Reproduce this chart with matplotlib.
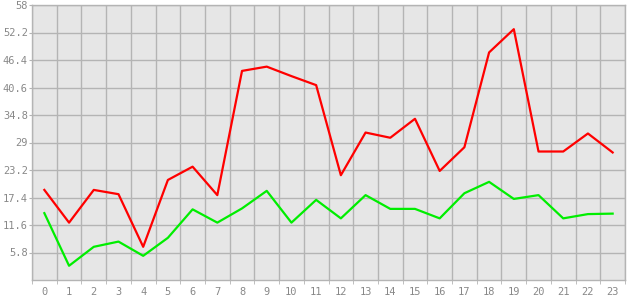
import matplotlib
matplotlib.use("Agg")
import matplotlib.pyplot as plt
import numpy as np

hours = list(range(24))
red_vals = [19.0, 12.1, 19.0, 18.1, 7.0, 21.1, 23.9, 17.9, 44.1, 45.0, 43.0, 41.1,
            22.1, 31.1, 30.0, 34.0, 23.0, 28.0, 48.0, 52.9, 27.1, 27.1, 30.9, 26.9]
green_vals = [14.1, 3.0, 7.0, 8.1, 5.1, 8.9, 14.9, 12.1, 15.1, 18.8, 12.1, 16.9,
              13.0, 17.9, 15.0, 15.0, 13.0, 18.3, 20.7, 17.1, 17.9, 13.0, 13.9, 14.0]
y_ticks = [5.8, 11.6, 17.4, 23.2, 29, 34.8, 40.6, 46.4, 52.2, 58]
y_labels = ["5.8", "11.6", "17.4", "23.2", "29", "34.8", "40.6", "46.4", "52.2", "58"]

GRID = "#b4b4b4"
TXT = "#888888"

fig = plt.figure(figsize=(6.3, 3.0), dpi=100)
ax = fig.add_axes([32 / 630, 20 / 300, 593 / 630, 275 / 300])
ax.set_facecolor("#e6e6e6")

ax.plot(hours, red_vals, color="#ff0000", lw=1.6, zorder=3)
ax.plot(hours, green_vals, color="#00ee00", lw=1.6, zorder=3)

ax.set_xlim(-0.5, 23.5)
ax.set_ylim(0, 58)

ax.set_xticks(hours)
ax.set_xticklabels([str(h) for h in hours])
ax.set_xticks(np.arange(-0.5, 24, 1), minor=True)
ax.set_yticks(y_ticks)
ax.set_yticklabels(y_labels)

ax.grid(False)
ax.grid(True, axis="x", which="minor", color=GRID, lw=1.0, zorder=1)
ax.grid(True, axis="y", which="major", color=GRID, lw=1.0, zorder=1)
ax.set_axisbelow(True)

ax.tick_params(axis="x", which="major", length=0, pad=5, labelsize=7.5, labelcolor=TXT)
ax.tick_params(axis="x", which="minor", length=3, color=GRID)
ax.tick_params(axis="y", length=2, color=GRID, pad=1, labelsize=7.5, labelcolor=TXT)
for lbl in ax.get_xticklabels() + ax.get_yticklabels():
    lbl.set_family("DejaVu Sans Mono")

for sp in ax.spines.values():
    sp.set_color(GRID)
    sp.set_linewidth(1.0)

fig.savefig("out.png", dpi=100, facecolor="white")
